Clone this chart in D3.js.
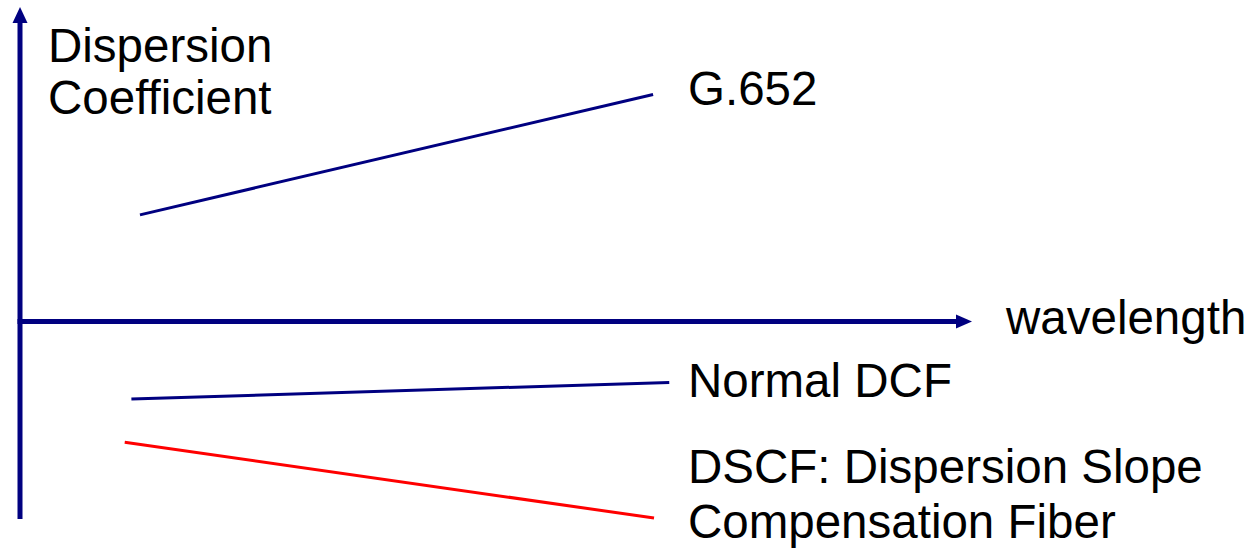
<!DOCTYPE html>
<html>
<head>
<meta charset="utf-8">
<script src="https://cdn.jsdelivr.net/npm/d3@7"></script>
<style>
  html, body { margin: 0; padding: 0; background: #fff; }
  svg { display: block; }
  text { font-family: Arial, "Liberation Sans", Helvetica, sans-serif; fill: #000; }
</style>
</head>
<body>
<svg id="chart" width="1251" height="550"></svg>
<script>
// ---- data (abstract units: wavelength 0..100, dispersion -20..32) ----
const seriesNames = ["G.652", "Normal DCF", "DSCF"];
const seriesX = [[12.6, 66.5], [11.7, 68.2], [11.0, 66.6]];
const seriesY = [[10.85, 23.1], [-7.9, -6.2], [-12.3, -20.0]];
const seriesColors = ["#000080", "#000080", "#ff0000"];
const seriesLabels = [["G.652"], ["Normal DCF"], ["DSCF: Dispersion Slope", "Compensation Fiber"]];
const yAxisLabel = ["Dispersion", "Coefficient"];
const xAxisLabel = "wavelength";

const svg = d3.select("#chart");
const x = d3.scaleLinear().domain([0, 100]).range([20, 972]);
const y = d3.scaleLinear().domain([-20, 32]).range([518, 7]);

const axisColor = "#000080";

// vertical axis
svg.append("line")
  .attr("x1", x(0)).attr("x2", x(0))
  .attr("y1", y(-20) + 1).attr("y2", y(32) + 14)
  .attr("stroke", axisColor).attr("stroke-width", 5);
svg.append("path")
  .attr("d", d3.line()([[x(0), y(32)], [x(0) - 7.5, y(32) + 16], [x(0) + 7.5, y(32) + 16]]) + "Z")
  .attr("fill", axisColor);

// horizontal axis
svg.append("line")
  .attr("x1", x(0) - 2.5).attr("x2", x(100) - 14)
  .attr("y1", y(0)).attr("y2", y(0))
  .attr("stroke", axisColor).attr("stroke-width", 5);
svg.append("path")
  .attr("d", d3.line()([[x(100), y(0)], [x(100) - 16, y(0) - 7], [x(100) - 16, y(0) + 7]]) + "Z")
  .attr("fill", axisColor);

// series lines
const line = d3.line().x(d => x(d[0])).y(d => y(d[1]));
seriesNames.forEach((name, i) => {
  const pts = seriesX[i].map((v, j) => [v, seriesY[i][j]]);
  svg.append("path")
    .attr("d", line(pts))
    .attr("fill", "none")
    .attr("stroke", seriesColors[i])
    .attr("stroke-width", 3);
});

const fs = 47.5;
// axis labels
const yl = svg.append("text").attr("font-size", fs);
yAxisLabel.forEach((t, i) => {
  yl.append("tspan").attr("x", 48).attr("y", 62 + i * 52).text(t);
});
svg.append("text").attr("font-size", fs)
  .attr("x", 1006).attr("y", 334).text(xAxisLabel);

// series labels
const labelPos = [[688, 105], [688, 397], [688, 483]];
seriesLabels.forEach((lines, i) => {
  const t = svg.append("text").attr("font-size", fs);
  lines.forEach((s, j) => {
    t.append("tspan").attr("x", labelPos[i][0]).attr("y", labelPos[i][1] + j * 55).text(s);
  });
});
</script>
</body>
</html>
